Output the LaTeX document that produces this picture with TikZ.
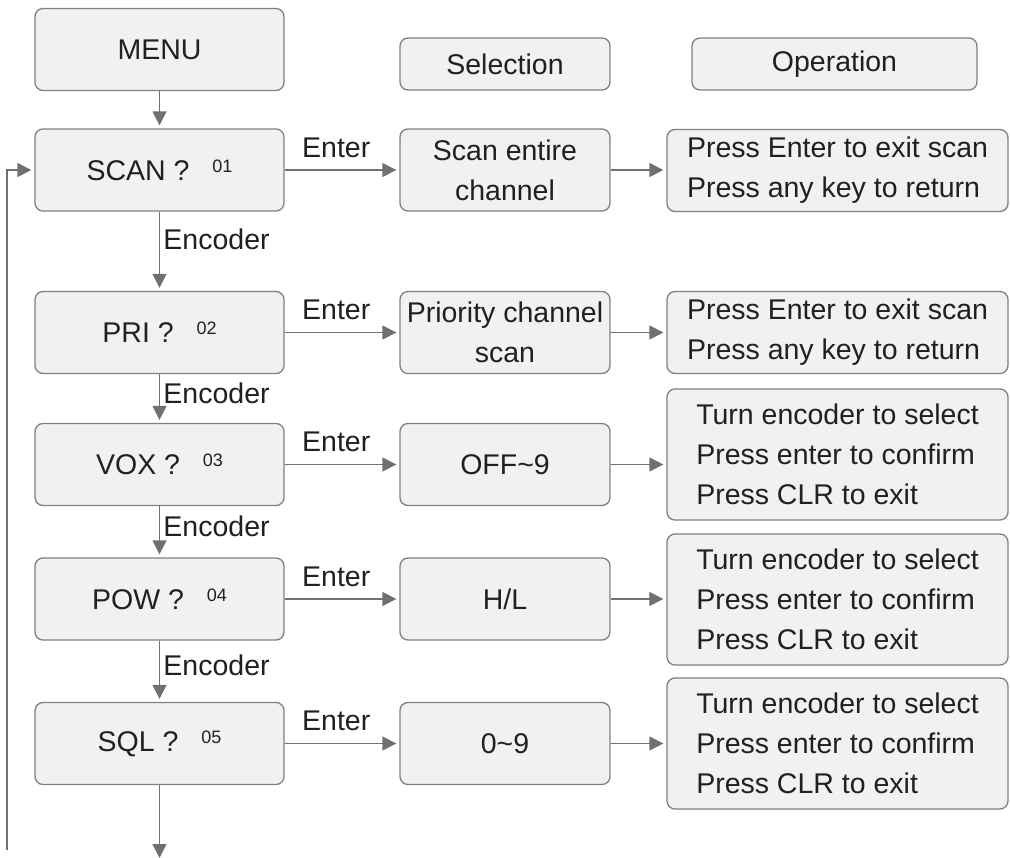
\documentclass[tikz,border=0pt]{standalone}
\usepackage{fontspec}
\setmainfont{Liberation Sans}
\usepackage{tikz}
\usetikzlibrary{arrows.meta}
\definecolor{boxfill}{RGB}{241,241,241}
\definecolor{boxline}{RGB}{128,128,128}
\definecolor{linegray}{RGB}{112,112,112}
\definecolor{inkgray}{RGB}{35,31,32}
\tikzstyle{menubox} = [rectangle, rounded corners=8pt,
minimum width=249pt,
minimum height=82pt,
inner sep=0pt,
text centered,
draw=boxline, line width=1.3pt,
fill=boxfill]
\tikzstyle{selbox} = [menubox,
minimum width=210pt,
align=center]
\tikzstyle{headbox} = [menubox,
minimum height=52pt]
\tikzstyle{opbox} = [menubox,
minimum width=341pt,
align=left]
\tikzstyle{arrow} = [draw=linegray, line width=1.3pt,
-{Triangle[length=14pt,width=14pt]}, shorten >=3pt]
\newcommand{\menuno}[1]{\hspace{0.8em}\raisebox{8pt}{\fontsize{18}{18}\selectfont #1}}

\begin{document}
\begin{tikzpicture}[x=1pt, y=-1pt, text=inkgray, font=\fontsize{28.5}{40}\selectfont]
            \useasboundingbox (0,0) rectangle (1010,858);
            \node (menu) [menubox] at (159.5,49.5) {MENU};
            \node (scan) [menubox] at (159.5,170) {SCAN ?\menuno{01}};
            \node (pri) [menubox] at (159.5,332.5) {PRI ?\menuno{02}};
            \node (vox) [menubox] at (159.5,464.5) {VOX ?\menuno{03}};
            \node (pow) [menubox] at (159.5,599) {POW ?\menuno{04}};
            \node (sql) [menubox] at (159.5,743.5) {SQL ?\menuno{05}};

            \node (selhead) [headbox, minimum width=210pt] at (505,64) {Selection};
            \node (ophead) [headbox, minimum width=285pt] at (834.5,64) {Operation};

            \node (scansel) [selbox] at (505,170) {Scan entire\\channel};
            \node (prisel) [selbox] at (505,332.5) {Priority channel\\scan};
            \node (voxsel) [selbox] at (505,464.5) {OFF\textasciitilde 9};
            \node (powsel) [selbox] at (505,599) {H/L};
            \node (sqlsel) [selbox] at (505,743.5) {0\textasciitilde 9};

            \node (scanop) [opbox] at (837.5,170.5) {Press Enter to exit scan\\Press any key to return};
            \node (priop) [opbox] at (837.5,332.5) {Press Enter to exit scan\\Press any key to return};
            \node (voxop) [opbox, minimum height=131pt] at (837.5,454.5) {Turn encoder to select\\Press enter to confirm\\Press CLR to exit};
            \node (powop) [opbox, minimum height=131pt] at (837.5,599.5) {Turn encoder to select\\Press enter to confirm\\Press CLR to exit};
            \node (sqlop) [opbox, minimum height=131pt] at (837.5,743.5) {Turn encoder to select\\Press enter to confirm\\Press CLR to exit};

            \coordinate (loopstart) at (7,850);
            \coordinate (exit) at (159.5,858);

            \draw [arrow] (menu) -- (scan);
            \draw [arrow] (scan) -- node[anchor=west, pos=0.35]{Encoder} (pri);
            \draw [arrow] (pri) -- node[anchor=west, pos=0.4]{Encoder} (vox);
            \draw [arrow] (vox) -- node[anchor=west, pos=0.4]{Encoder} (pow);
            \draw [arrow] (pow) -- node[anchor=west, pos=0.4]{Encoder} (sql);
            \draw [arrow, shorten >=0pt] (sql) -- (exit);
            \draw [arrow] (loopstart) |- (scan.west);

            \draw [arrow] (scan) -- node[above, inner sep=0pt, yshift=12pt, pos=0.45]{Enter} (scansel);
            \draw [arrow] (pri) -- node[above, inner sep=0pt, yshift=12pt, pos=0.45]{Enter} (prisel);
            \draw [arrow] (vox) -- node[above, inner sep=0pt, yshift=12pt, pos=0.45]{Enter} (voxsel);
            \draw [arrow] (pow) -- node[above, inner sep=0pt, yshift=12pt, pos=0.45]{Enter} (powsel);
            \draw [arrow] (sql) -- node[above, inner sep=0pt, yshift=12pt, pos=0.45]{Enter} (sqlsel);

            \draw [arrow] (scansel) -- (scansel.east -| scanop.west);
            \draw [arrow] (prisel) -- (prisel.east -| priop.west);
            \draw [arrow] (voxsel) -- (voxsel.east -| voxop.west);
            \draw [arrow] (powsel) -- (powsel.east -| powop.west);
            \draw [arrow] (sqlsel) -- (sqlsel.east -| sqlop.west);
        \end{tikzpicture}
\end{document}
